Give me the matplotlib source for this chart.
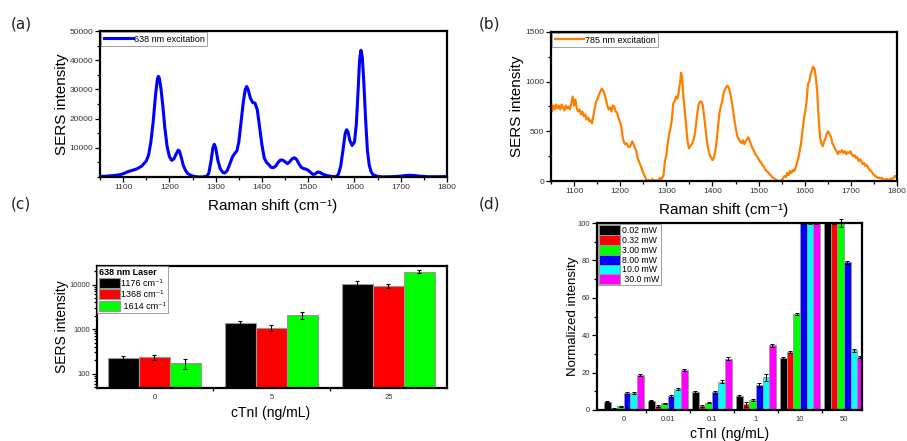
import matplotlib
matplotlib.use("Agg")
import matplotlib.pyplot as plt
import numpy as np
from matplotlib.ticker import MultipleLocator, FixedLocator, NullFormatter

plt.rcParams['font.family'] = ['Liberation Sans', 'DejaVu Sans']

# (a) 638 nm spectrum
wn_638 = [1050, 1060, 1070, 1080, 1090, 1100, 1110, 1120, 1130, 1140, 1150, 1155, 1160, 1165,
          1170, 1174, 1176, 1178, 1182, 1186, 1190, 1195, 1200, 1205, 1210, 1215, 1219, 1222,
          1226, 1230, 1235, 1240, 1250, 1260, 1270, 1280, 1285, 1290, 1294, 1297, 1300, 1305,
          1310, 1316, 1320, 1325, 1330, 1336, 1340, 1346, 1350, 1355, 1360, 1364, 1367, 1370,
          1375, 1380, 1385, 1390, 1395, 1400, 1405, 1410, 1415, 1420, 1425, 1430, 1435, 1440,
          1445, 1450, 1455, 1460, 1465, 1470, 1475, 1480, 1485, 1490, 1495, 1500, 1505, 1510,
          1515, 1520, 1525, 1530, 1540, 1550, 1560, 1565, 1570, 1575, 1580, 1583, 1586, 1590,
          1595, 1600, 1604, 1608, 1611, 1614, 1617, 1620, 1624, 1628, 1632, 1636, 1640, 1650,
          1660, 1680, 1700, 1710, 1720, 1730, 1740, 1760, 1780, 1800]
int_638 = [200, 250, 350, 500, 700, 1100, 1800, 2300, 2800, 3700, 5500, 7500, 12000, 19000,
           28000, 33500, 34500, 34000, 30000, 24000, 17000, 10500, 7000, 5700, 6300, 8000, 9200, 8800,
           6500, 4000, 2200, 1100, 300, 50, 0, 200, 1200, 5500, 10000, 11200, 10000, 5500,
           2800, 1500, 1400, 2200, 4200, 6800, 7800, 9000, 12000, 19000, 26000, 30000, 31000, 30000,
           27000, 25500, 25300, 23000, 17000, 11000, 6500, 5000, 4200, 3300, 3200, 3800, 5000, 5800,
           5800, 5200, 4600, 5200, 6200, 6600, 6000, 4500, 3300, 2900, 2700, 2300, 1600, 900,
           1000, 1700, 1600, 1100, 500, 200, 100, 800, 3500, 9000, 15000, 16200, 15500, 12500,
           10800, 12000, 18000, 30000, 40000, 43400, 41000, 33000, 20000, 9000, 4000, 1800, 800, 200,
           50, 100, 300, 500, 600, 500, 300, 100, 100, 150]

# (b) 785 nm spectrum
wn_785 = [1050, 1052, 1055, 1058, 1061, 1064, 1067, 1070, 1073, 1076, 1079, 1082, 1085, 1088,
          1091, 1094, 1097, 1100, 1103, 1106, 1109, 1112, 1115, 1118, 1121, 1124, 1127, 1130,
          1133, 1136, 1139, 1142, 1145, 1148, 1151, 1154, 1157, 1160, 1163, 1166, 1169, 1172,
          1175, 1178, 1181, 1184, 1187, 1190, 1193, 1196, 1199, 1202, 1205, 1208, 1211, 1214,
          1217, 1220, 1223, 1226, 1229, 1232, 1235, 1238, 1241, 1244, 1247, 1250, 1253, 1256,
          1259, 1262, 1266, 1270, 1274, 1278, 1282, 1286, 1290, 1294, 1297, 1300, 1303, 1306,
          1309, 1312, 1315, 1318, 1321, 1324, 1327, 1330, 1332, 1334, 1337, 1340, 1343, 1346,
          1349, 1352, 1355, 1358, 1361, 1364, 1367, 1370, 1373, 1376, 1379, 1382, 1385, 1388,
          1391, 1394, 1397, 1400, 1403, 1406, 1409, 1412, 1415, 1418, 1421, 1424, 1427, 1430,
          1433, 1436, 1439, 1442, 1445, 1448, 1451, 1454, 1457, 1460, 1463, 1466, 1469, 1472,
          1475, 1478, 1481, 1484, 1487, 1490, 1493, 1496, 1499, 1502, 1505, 1508, 1511, 1514,
          1517, 1520, 1523, 1526, 1529, 1532, 1535, 1538, 1541, 1544, 1548, 1552, 1556, 1559,
          1562, 1565, 1568, 1571, 1574, 1577, 1580, 1583, 1586, 1589, 1592, 1595, 1598, 1601,
          1604, 1607, 1610, 1613, 1616, 1618, 1621, 1624, 1627, 1630, 1633, 1636, 1639, 1642,
          1645, 1648, 1651, 1654, 1657, 1660, 1663, 1666, 1669, 1672, 1675, 1678, 1681, 1684,
          1687, 1690, 1693, 1696, 1699, 1702, 1705, 1708, 1711, 1714, 1717, 1720, 1723, 1726,
          1729, 1732, 1735, 1738, 1741, 1744, 1747, 1750, 1753, 1756, 1759, 1762, 1765, 1768,
          1771, 1774, 1777, 1780, 1783, 1786, 1789, 1792, 1795, 1798, 1800]
int_785 = [800, 700, 760, 720, 770, 730, 760, 720, 770, 740, 710, 760, 730, 750,
           720, 780, 850, 760, 820, 730, 700, 720, 670, 700, 650, 670, 620, 640,
           600, 610, 580, 660, 740, 800, 830, 870, 900, 930, 910, 880, 820, 760,
           720, 740, 700, 760, 750, 700, 690, 640, 600, 560, 450, 390, 370, 380,
           350, 340, 360, 400, 370, 330, 300, 230, 190, 160, 120, 80, 50, 20,
           0, 10, 0, 20, 0, 10, 0, 30, 20, 60, 200, 260, 380, 470,
           530, 620, 780, 800, 850, 830, 900, 1000, 1090, 1050, 850, 700, 550, 400,
           330, 350, 370, 400, 450, 550, 680, 770, 800, 800, 760, 650, 520, 400,
           320, 260, 240, 210, 230, 300, 400, 550, 680, 750, 800, 880, 920, 950,
           960, 930, 870, 800, 700, 600, 520, 450, 420, 400, 380, 410, 370, 400,
           420, 440, 400, 360, 330, 300, 270, 250, 230, 200, 190, 160, 150, 120,
           100, 90, 70, 60, 40, 30, 20, 10, 5, 0, 0, 20, 50, 40,
           80, 60, 100, 80, 110, 100, 130, 180, 230, 300, 380, 500, 620, 700,
           800, 980, 1000, 1080, 1120, 1150, 1130, 1050, 900, 650, 450, 380, 350, 400,
           430, 480, 500, 470, 440, 380, 350, 320, 300, 270, 300, 290, 310, 280,
           300, 270, 290, 280, 300, 270, 250, 260, 230, 240, 200, 220, 190, 170,
           180, 150, 160, 130, 110, 100, 80, 60, 50, 40, 30, 35, 25, 30,
           15, 10, 20, 15, 10, 25, 20, 30, 50, 40, 60]

# (c) 638 nm laser, SERS intensity vs cTnI
c_groups = ['0', '5', '25']
c_labels = ['1176 cm\u207b\u00b9', '1368 cm\u207b\u00b9', ' 1614 cm\u207b\u00b9']
c_vals = [[220, 1350, 10500],
          [235, 1070, 9300],
          [170, 2050, 19500]]
c_errs = [[35, 200, 1500],
          [35, 150, 1000],
          [40, 350, 1200]]
c_colors = ['#000000', '#ff0000', '#00ff00']

# (d) normalized intensity vs cTnI for laser powers
d_groups = ['0', '0.01', '0.1', '1', '10', '50']
d_labels = ['0.02 mW', '0.32 mW', '3.00 mW', '8.00 mW', '10.0 mW', ' 30.0 mW']
d_vals = [[4.5, 5.0, 9.5, 7.5, 28.0, 100],
          [1.0, 2.0, 2.0, 3.0, 31.0, 100],
          [2.0, 3.5, 4.0, 5.5, 51.5, 100],
          [9.0, 7.5, 9.5, 13.5, 100, 79.0],
          [9.0, 11.0, 15.0, 17.5, 100, 32.0],
          [18.5, 21.5, 27.5, 34.5, 100, 28.5]]
d_errs = [[0.4, 0.4, 0.4, 0.5, 0.5, 0.5],
          [0.3, 0.6, 0.5, 1.5, 0.5, 0.5],
          [0.3, 0.5, 0.4, 0.6, 0.5, 2.0],
          [0.5, 0.5, 0.8, 1.0, 0.5, 0.8],
          [0.6, 0.5, 0.8, 2.0, 0.5, 0.8],
          [0.5, 0.6, 0.6, 0.6, 0.5, 0.5]]
d_colors = ['#000000', '#ff0000', '#00ff00', '#0000ff', '#00ffff', '#ff00ff']

W, H = 907, 441
fig = plt.figure(figsize=(W / 100, H / 100), dpi=100)


def box(l, t, r, b):
    return [l / W, 1 - b / H, (r - l) / W, (b - t) / H]


def style(ax, size=6):
    for s in ax.spines.values():
        s.set_linewidth(1.6)
    ax.tick_params(which='both', direction='out', labelsize=size, labelcolor='#333333',
                   width=0.9, pad=1.5)
    ax.tick_params(which='major', length=3.5)
    ax.tick_params(which='minor', length=2)


def ftext(x, y, s, **kw):
    fig.text(x / W, 1 - y / H, s, ha='center', va='center', **kw)


def frame(leg):
    leg.get_frame().set_edgecolor('#888888')
    leg.get_frame().set_linewidth(0.7)


# (a)
ax = fig.add_axes(box(100, 31, 447, 177))
ax.plot(wn_638, int_638, color='#0000ff', lw=2.2, label='638 nm excitation')
ax.set_xlim(1050, 1800)
ax.set_ylim(0, 50000)
ax.xaxis.set_major_locator(FixedLocator(range(1100, 1801, 100)))
ax.xaxis.set_minor_locator(MultipleLocator(50))
ax.yaxis.set_major_locator(FixedLocator(range(10000, 50001, 10000)))
ax.yaxis.set_minor_locator(MultipleLocator(5000))
style(ax)
frame(ax.legend(loc='upper left', fontsize=6.5, frameon=True, fancybox=False,
                borderaxespad=0.15, handlelength=3.2, handletextpad=0.2, borderpad=0.25))
ftext(62, 104, 'SERS intensity', fontsize=11, rotation=90)
ftext(273, 206, 'Raman shift (cm\u207b\u00b9)', fontsize=11)

# (b)
ax = fig.add_axes(box(551, 32, 897, 181))
ax.plot(wn_785, int_785, color='#ff8000', lw=1.6, label='785 nm excitation')
ax.set_xlim(1050, 1800)
ax.set_ylim(0, 1500)
ax.xaxis.set_major_locator(FixedLocator(range(1100, 1801, 100)))
ax.xaxis.set_minor_locator(MultipleLocator(50))
ax.yaxis.set_major_locator(MultipleLocator(500))
ax.yaxis.set_minor_locator(MultipleLocator(250))
style(ax)
frame(ax.legend(loc='upper left', fontsize=6.5, frameon=True, fancybox=False,
                borderaxespad=0.15, handlelength=3.2, handletextpad=0.2, borderpad=0.25))
ftext(517, 106, 'SERS intensity', fontsize=11, rotation=90)
ftext(724, 210, 'Raman shift (cm\u207b\u00b9)', fontsize=11)

# (c)
ax = fig.add_axes(box(97, 266, 447, 388))
x = np.arange(len(c_groups))
bw = 0.265
for i in range(3):
    ax.bar(x + (i - 1) * bw, c_vals[i], bw, color=c_colors[i], edgecolor='#999999',
           linewidth=0.8, label=c_labels[i])
    ax.errorbar(x + (i - 1) * bw, c_vals[i], yerr=c_errs[i], fmt='none', ecolor='k',
                elinewidth=0.8, capsize=1.5, capthick=0.8)
ax.set_yscale('log')
ax.set_ylim(48, 26000)
ax.set_xlim(-0.49, 2.5)
ax.set_yticks([100, 1000, 10000])
ax.set_yticklabels(['100', '1000', '10000'])
ax.yaxis.set_minor_formatter(NullFormatter())
ax.set_xticks(x)
ax.set_xticklabels(c_groups)
ax.xaxis.set_minor_locator(FixedLocator([0.5, 1.5]))
style(ax, 5.5)
ax.tick_params(axis='x', which='major', length=0, pad=4)
frame(ax.legend(loc='upper left', fontsize=6.5, frameon=True, fancybox=False,
                title='638 nm Laser', title_fontproperties={'weight': 'bold', 'size': 6.5},
                alignment='left', borderaxespad=0.0, handlelength=2.3, handleheight=1.3,
                handletextpad=0.2, labelspacing=0.15, borderpad=0.2))
ftext(62, 327, 'SERS intensity', fontsize=10, rotation=90)
ftext(271, 413, 'cTnI (ng/mL)', fontsize=10)

# (d)
ax = fig.add_axes(box(597, 223, 862, 410))
x = np.arange(len(d_groups))
bw = 0.15
for i in range(6):
    ax.bar(x + (i - 2.5) * bw, d_vals[i], bw, color=d_colors[i], edgecolor='#999999',
           linewidth=0.6, label=d_labels[i])
    ax.errorbar(x + (i - 2.5) * bw, d_vals[i], yerr=d_errs[i], fmt='none', ecolor='k',
                elinewidth=0.7, capsize=1.2, capthick=0.7, clip_on=False)
ax.set_ylim(0, 100)
ax.set_xlim(-0.61, 5.41)
ax.yaxis.set_major_locator(MultipleLocator(20))
ax.yaxis.set_minor_locator(MultipleLocator(10))
ax.set_xticks(x)
ax.set_xticklabels(d_groups)
ax.xaxis.set_minor_locator(FixedLocator(x[:-1] + 0.5))
style(ax, 5.5)
ax.tick_params(axis='x', which='major', length=0, pad=4)
frame(ax.legend(loc='upper left', fontsize=6.3, frameon=True, fancybox=False,
                borderaxespad=0.1, handlelength=2.4, handleheight=1.35,
                handletextpad=0.2, labelspacing=0.0, borderpad=0.15))
ftext(573, 316, 'Normalized intensity', fontsize=9.5, rotation=90)
ftext(730, 434, 'cTnI (ng/mL)', fontsize=10)

# panel letters
for s, px, py in [('(a)', 21, 24), ('(b)', 489, 24), ('(c)', 21, 204), ('(d)', 489, 204)]:
    ftext(px, py, s, fontsize=11, family='DejaVu Sans', color='#222222')

fig.savefig('out.png', dpi=100)
